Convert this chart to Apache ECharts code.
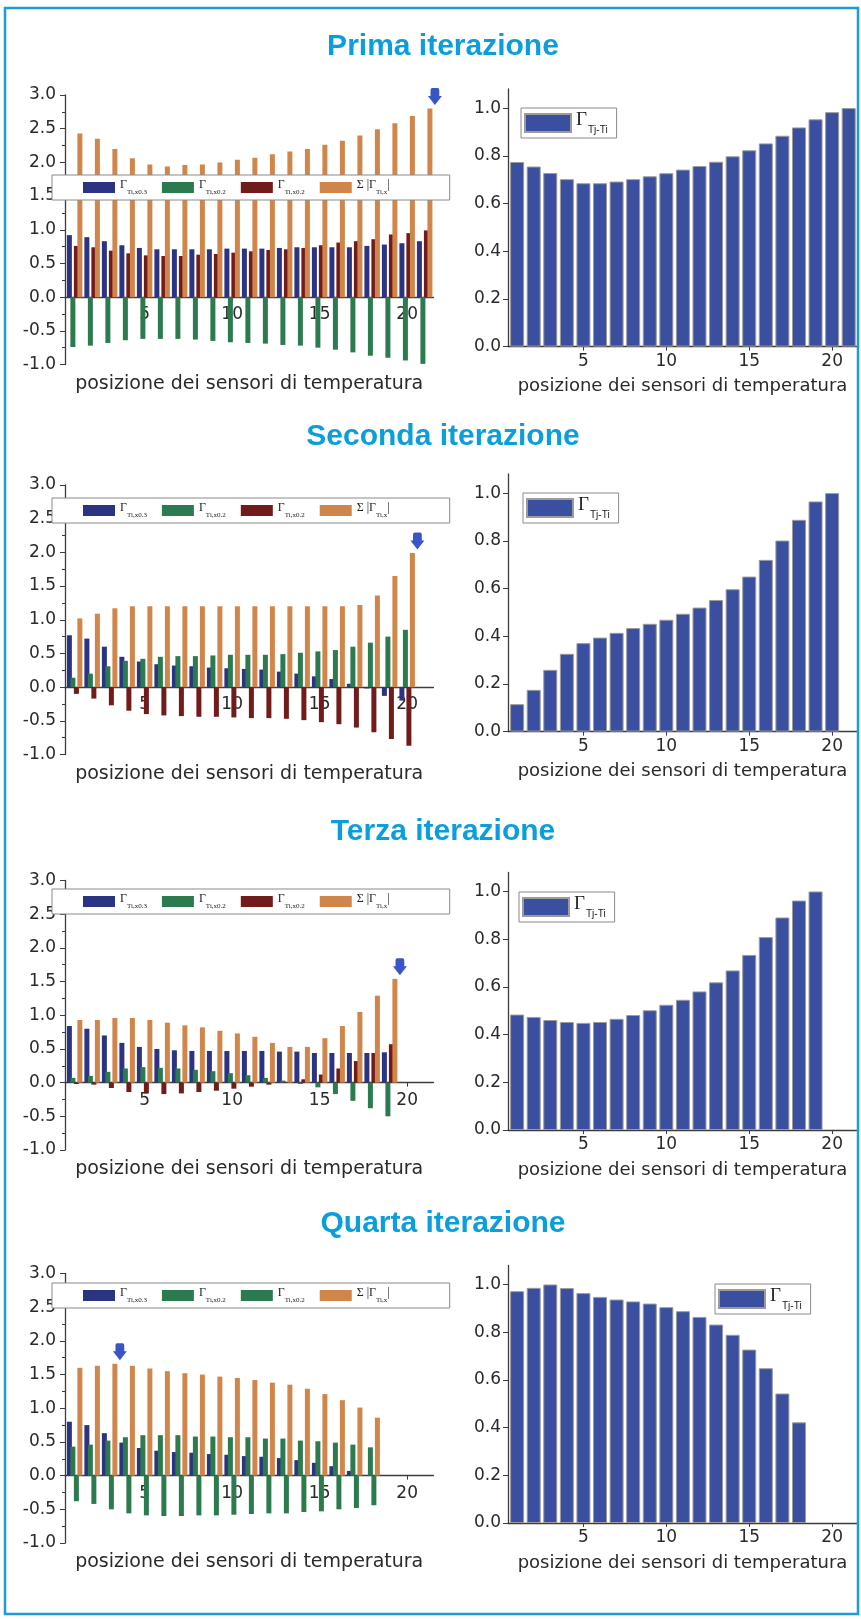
<!DOCTYPE html>
<html><head><meta charset="utf-8">
<script src="https://cdn.jsdelivr.net/npm/echarts@6/dist/echarts.min.js"></script>
<style>html,body{margin:0;padding:0;background:#fff}#c{width:861px;height:1619px}</style>
</head><body><div id="c"></div><script>
// ---- data ----
const titles = ['Prima iterazione', 'Seconda iterazione', 'Terza iterazione', 'Quarta iterazione'];
const xName = 'posizione dei sensori di temperatura';
const xTickLabels = [5, 10, 15, 20];
const rightYTickLabels = [0, 0.2, 0.4, 0.6, 0.8, 1.0];

const pos21 = [1,2,3,4,5,6,7,8,9,10,11,12,13,14,15,16,17,18,19,20,21];
const pos20 = [1,2,3,4,5,6,7,8,9,10,11,12,13,14,15,16,17,18,19,20];
const pos19 = [1,2,3,4,5,6,7,8,9,10,11,12,13,14,15,16,17,18,19];
const pos18 = [1,2,3,4,5,6,7,8,9,10,11,12,13,14,15,16,17,18];

// Prima iterazione
const it1_b = [0.92,0.89,0.83,0.77,0.73,0.71,0.71,0.71,0.71,0.72,0.72,0.72,0.73,0.74,0.74,0.74,0.74,0.76,0.78,0.80,0.83];
const it1_g = [-0.74,-0.72,-0.68,-0.64,-0.62,-0.62,-0.62,-0.63,-0.65,-0.67,-0.68,-0.69,-0.71,-0.72,-0.75,-0.78,-0.82,-0.87,-0.90,-0.94,-0.99];
const it1_r = [0.76,0.74,0.69,0.65,0.62,0.61,0.61,0.63,0.64,0.66,0.68,0.70,0.71,0.73,0.77,0.81,0.83,0.86,0.93,0.95,0.99];
const it1_s = [2.43,2.35,2.20,2.06,1.97,1.94,1.96,1.97,2.00,2.04,2.07,2.12,2.16,2.20,2.26,2.32,2.40,2.49,2.58,2.69,2.80];
const rt1 = [0.774,0.755,0.728,0.702,0.685,0.685,0.692,0.702,0.714,0.727,0.742,0.757,0.775,0.798,0.823,0.852,0.884,0.919,0.953,0.983,1.0];

// Seconda iterazione
const it2_b = [0.77,0.72,0.60,0.45,0.38,0.34,0.32,0.31,0.29,0.28,0.27,0.26,0.23,0.20,0.16,0.12,0.05,-0.02,-0.13,-0.20];
const it2_g = [0.14,0.20,0.31,0.39,0.42,0.45,0.46,0.46,0.47,0.48,0.48,0.48,0.49,0.51,0.53,0.55,0.60,0.66,0.75,0.85];
const it2_r = [-0.10,-0.17,-0.27,-0.35,-0.40,-0.42,-0.43,-0.44,-0.44,-0.45,-0.46,-0.46,-0.47,-0.49,-0.52,-0.55,-0.60,-0.67,-0.77,-0.87];
const it2_s = [1.02,1.09,1.17,1.20,1.20,1.20,1.20,1.20,1.20,1.20,1.20,1.20,1.20,1.20,1.20,1.20,1.22,1.36,1.65,1.99];
const rt2 = [0.115,0.175,0.259,0.326,0.371,0.394,0.414,0.434,0.452,0.469,0.494,0.520,0.552,0.597,0.650,0.720,0.801,0.888,0.965,1.0];

// Terza iterazione
const it3_b = [0.84,0.80,0.70,0.59,0.53,0.50,0.48,0.47,0.47,0.47,0.47,0.47,0.46,0.46,0.44,0.44,0.44,0.44,0.45];
const it3_g = [0.07,0.10,0.16,0.21,0.23,0.22,0.21,0.19,0.17,0.14,0.11,0.07,0.03,-0.02,-0.07,-0.17,-0.27,-0.38,-0.50];
const it3_r = [-0.02,-0.03,-0.08,-0.14,-0.16,-0.17,-0.16,-0.14,-0.12,-0.09,-0.06,-0.03,0.01,0.05,0.12,0.21,0.32,0.44,0.57];
const it3_s = [0.93,0.93,0.96,0.96,0.93,0.89,0.85,0.82,0.77,0.73,0.68,0.59,0.53,0.53,0.66,0.84,1.05,1.29,1.54];
const rt3 = [0.484,0.474,0.461,0.453,0.449,0.453,0.466,0.482,0.502,0.525,0.546,0.581,0.619,0.669,0.734,0.809,0.891,0.962,1.0];

// Quarta iterazione
const it4_b = [0.80,0.75,0.63,0.49,0.41,0.37,0.35,0.34,0.32,0.31,0.29,0.28,0.26,0.23,0.19,0.14,0.07,0.00];
const it4_g = [0.43,0.46,0.52,0.57,0.60,0.60,0.60,0.58,0.58,0.57,0.57,0.55,0.55,0.52,0.51,0.49,0.46,0.42];
const it4_n = [-0.38,-0.42,-0.50,-0.56,-0.59,-0.60,-0.60,-0.59,-0.59,-0.58,-0.57,-0.56,-0.56,-0.54,-0.53,-0.50,-0.48,-0.44];
const it4_s = [1.60,1.63,1.66,1.63,1.59,1.55,1.52,1.50,1.47,1.45,1.42,1.38,1.35,1.29,1.21,1.12,1.01,0.86];
const rt4 = [0.972,0.986,1.0,0.985,0.964,0.948,0.937,0.929,0.920,0.905,0.888,0.864,0.832,0.789,0.727,0.649,0.543,0.422];

const leftLegendLabels = [
  '{g|Γ}{s|Ti,x0.3}', '{g|Γ}{s|Ti,x0.2}', '{g|Γ}{s|Ti,x0.2}', '{g|Σ |Γ}{s|Ti,x}{g||}'
];
const rightLegendLabel = '{g|Γ}{s|Tj-Ti}';

// ---- assembly ----
const iters = [
  {pos: pos21, vals: [it1_b, it1_g, it1_r, it1_s], right: rt1},
  {pos: pos20, vals: [it2_b, it2_g, it2_r, it2_s], right: rt2},
  {pos: pos19, vals: [it3_b, it3_g, it3_r, it3_s], right: rt3},
  {pos: pos18, vals: [it4_b, it4_g, it4_n, it4_s], right: rt4}
];
const BLUE = '#2b3482', GREEN = '#2c7b4f', RED = '#721b1b', ORANGE = '#d0864a';
const seriesColors = [
  [BLUE, GREEN, RED, ORANGE], [BLUE, GREEN, RED, ORANGE], [BLUE, GREEN, RED, ORANGE], [BLUE, GREEN, GREEN, ORANGE]
];

// layout (pixels)
const titleTop = [32, 422, 817, 1209];
const leftTop = [95, 485, 880.5, 1273.5];
const leftH = 269.5;
const rightTop = [89, 474, 872.4, 1265.4];
const rightH = 257.6;
const legendTopL = [175, 498, 889, 1283];
const legendPosR = [[521, 108], [523, 493], [519, 892], [715, 1284]];

const TXT = '#2a2a2a';
const AX = '#3c3c3c';
const FONT = 'DejaVu Sans';
const arrowPath = 'path://M5,0 L11,0 Q13,0 13,2 L13,8 L16,8 L8,17 L0,8 L3,8 L3,2 Q3,0 5,0 Z';

const grid = [], xAxis = [], yAxis = [], series = [], legend = [], title = [];
const nameMap = {};

iters.forEach((it, k) => {
  title.push({
    text: titles[k], left: 443, textAlign: 'center', top: titleTop[k], padding: 0,
    textStyle: {fontSize: 30, fontWeight: 'bold', color: '#0c9edb', fontFamily: 'Liberation Sans'}
  });
  // left grid: the x axis sits on the zero line (value 0 is 1/4 of the way up from -1 to 3)
  const gl = grid.length;
  grid.push({left: 65, top: leftTop[k], width: 368.4, height: leftH});
  xAxis.push({
    gridIndex: gl, type: 'value', min: 0.45, max: 21.5, position: 'bottom',
    offset: -leftH / 4,
    axisLine: {show: true, onZero: false, lineStyle: {color: AX, width: 1.3}},
    axisTick: {show: true, customValues: xTickLabels, length: 4, lineStyle: {color: AX}},
    axisLabel: {customValues: xTickLabels, fontSize: 17, fontFamily: FONT, color: TXT, margin: 9},
    splitLine: {show: false},
    name: xName, nameLocation: 'middle', nameGap: 77,
    nameTextStyle: {fontSize: 19, fontFamily: FONT, color: TXT}
  });
  yAxis.push({
    gridIndex: gl, type: 'value', min: -1, max: 3, interval: 0.5,
    axisLine: {show: true, onZero: false, lineStyle: {color: AX, width: 1.3}},
    axisTick: {show: true, length: 5, lineStyle: {color: AX}},
    minorTick: {show: true, splitNumber: 2, length: 3, lineStyle: {color: AX}},
    axisLabel: {formatter: v => v.toFixed(1), fontSize: 17, fontFamily: FONT, color: TXT, margin: 9},
    splitLine: {show: false}
  });
  const names = [];
  it.vals.forEach((arr, j) => {
    const nm = 'L' + (k + 1) + '_' + j;
    names.push(nm);
    nameMap[nm] = leftLegendLabels[j];
    const s = {
      type: 'bar', name: nm, xAxisIndex: gl, yAxisIndex: gl,
      data: it.pos.map((p, i) => [p, arr[i]]),
      barWidth: 5, barGap: '-30%',
      itemStyle: {color: seriesColors[k][j]},
      emphasis: {disabled: true}
    };
    if (j === 3) {
      let idx = 0;
      arr.forEach((v, i) => { if (v > arr[idx]) idx = i; });
      s.markPoint = {
        symbol: arrowPath, symbolSize: [14, 17], symbolOffset: [5, -12],
        itemStyle: {color: '#3a55c6'}, label: {show: false}, silent: true,
        data: [{coord: [it.pos[idx], arr[idx]]}]
      };
    }
    series.push(s);
  });
  legend.push({
    data: names, left: 52, top: legendTopL[k], orient: 'horizontal',
    icon: 'rect', itemWidth: 32, itemHeight: 11, itemGap: 15,
    padding: [4, 60, 4, 31], backgroundColor: '#fff', borderColor: '#8a8a8a', borderWidth: 1,
    selectedMode: false,
    formatter: n => nameMap[n],
    textStyle: {
      color: '#222',
      rich: {
        g: {fontSize: 12, fontFamily: 'Liberation Serif', color: '#222', verticalAlign: 'top'},
        s: {fontSize: 7, fontFamily: 'Liberation Serif', color: '#222', verticalAlign: 'top', padding: [10, 0, 0, 0]}
      }
    }
  });

  // right grid
  const gr = grid.length;
  grid.push({left: 508, top: rightTop[k], width: 349, height: rightH});
  xAxis.push({
    gridIndex: gr, type: 'value', min: 0.45, max: 21.5,
    axisLine: {show: true, onZero: false, lineStyle: {color: AX, width: 1.3}},
    axisTick: {show: true, customValues: xTickLabels, length: 4, lineStyle: {color: AX}},
    axisLabel: {customValues: xTickLabels, fontSize: 17, fontFamily: FONT, color: TXT, margin: 6},
    splitLine: {show: false},
    name: xName, nameLocation: 'middle', nameGap: 31,
    nameTextStyle: {fontSize: 18, fontFamily: FONT, color: TXT}
  });
  yAxis.push({
    gridIndex: gr, type: 'value', min: 0, max: 1.08, interval: 0.2,
    axisLine: {show: true, onZero: false, lineStyle: {color: AX, width: 1.3}},
    axisTick: {show: true, customValues: rightYTickLabels, length: 5, lineStyle: {color: AX}},
    axisLabel: {customValues: rightYTickLabels, formatter: v => v.toFixed(1), fontSize: 17, fontFamily: FONT, color: TXT, margin: 7},
    splitLine: {show: false}
  });
  const rn = 'R' + (k + 1);
  nameMap[rn] = rightLegendLabel;
  series.push({
    type: 'bar', name: rn, xAxisIndex: gr, yAxisIndex: gr,
    data: it.pos.map((p, i) => [p, it.right[i]]),
    barWidth: 14,
    itemStyle: {color: '#3a4f9f', borderColor: '#9c9c9c', borderWidth: 1},
    emphasis: {disabled: true}
  });
  legend.push({
    data: [rn], left: legendPosR[k][0], top: legendPosR[k][1], orient: 'horizontal',
    icon: 'rect', itemWidth: 46, itemHeight: 18,
    padding: [3, 9, 3, 3], backgroundColor: '#fff', borderColor: '#8a8a8a', borderWidth: 1,
    selectedMode: false,
    formatter: n => nameMap[n],
    textStyle: {
      color: '#222',
      rich: {
        g: {fontSize: 19, fontFamily: 'Liberation Serif', color: '#222', verticalAlign: 'top'},
        s: {fontSize: 10, fontFamily: 'Liberation Sans', color: '#222', verticalAlign: 'top', padding: [14, 0, 0, 1]}
      }
    }
  });
});

const chart = echarts.init(document.getElementById('c'), null, {renderer: 'canvas'});
chart.setOption({
  animation: false,
  backgroundColor: '#fff',
  title, grid, xAxis, yAxis, series, legend,
  graphic: [{
    type: 'rect', silent: true, z: 100,
    shape: {x: 5, y: 8, width: 853, height: 1606},
    style: {fill: 'none', stroke: '#1b9bd7', lineWidth: 2.5}
  }]
});
</script></body></html>
